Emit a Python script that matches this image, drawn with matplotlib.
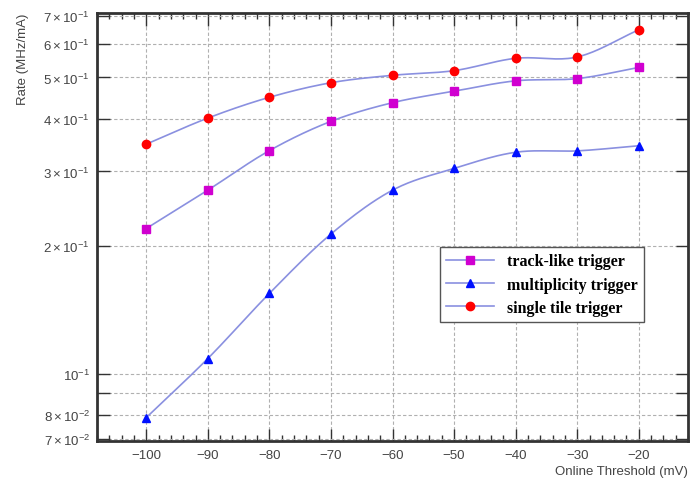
import numpy as np
import matplotlib.pyplot as plt
from matplotlib.ticker import FixedLocator, FixedFormatter, MultipleLocator, NullLocator

plt.rcParams['font.family'] = ['Liberation Sans', 'DejaVu Sans']
plt.rcParams['mathtext.fontset'] = 'custom'
plt.rcParams['mathtext.rm'] = 'Liberation Sans'
plt.rcParams['mathtext.it'] = 'Liberation Sans'

# --- data ---
threshold = [-100, -90, -80, -70, -60, -50, -40, -30, -20]
track_like = [0.220, 0.271, 0.336, 0.394, 0.436, 0.464, 0.491, 0.497, 0.528]
multiplicity = [0.0787, 0.1085, 0.1546, 0.2135, 0.271, 0.305, 0.333, 0.3355, 0.345]
single_tile = [0.348, 0.401, 0.449, 0.486, 0.506, 0.519, 0.555, 0.559, 0.648]

ytick_vals = [0.07, 0.08, 0.09, 0.1, 0.2, 0.3, 0.4, 0.5, 0.6, 0.7]
ytick_labels = [r'$7\times10^{-2}$', r'$8\times10^{-2}$', '', r'$10^{-1}$',
                r'$2\times10^{-1}$', r'$3\times10^{-1}$', r'$4\times10^{-1}$',
                r'$5\times10^{-1}$', r'$6\times10^{-1}$', r'$7\times10^{-1}$']


def smooth(x, y, n=20):
    # Catmull-Rom curve through the points, done in (x, log y) like ROOT's "C" option
    x = np.asarray(x, float)
    ly = np.log10(y)
    px = np.concatenate([[2 * x[0] - x[1]], x, [2 * x[-1] - x[-2]]])
    py = np.concatenate([[2 * ly[0] - ly[1]], ly, [2 * ly[-1] - ly[-2]]])
    xs, ys = [], []
    t = np.linspace(0, 1, n, endpoint=False)
    for i in range(1, len(px) - 2):
        for arr, out in ((px, xs), (py, ys)):
            p0, p1, p2, p3 = arr[i - 1], arr[i], arr[i + 1], arr[i + 2]
            out.append(0.5 * (2 * p1 + (-p0 + p2) * t + (2 * p0 - 5 * p1 + 4 * p2 - p3) * t**2
                              + (-p0 + 3 * p1 - 3 * p2 + p3) * t**3))
    xs = np.concatenate(xs + [[x[-1]]])
    ys = np.concatenate(ys + [[ly[-1]]])
    return xs, 10**ys


fig = plt.figure(figsize=(6.91, 4.81), dpi=100)
ax = fig.add_axes([0.1404, 0.0811, 0.8553, 0.8898])

line_col = '#8a90e0'
series = [(track_like, 's', '#d000d0', 'track-like trigger', 5.5),
          (multiplicity, '^', '#0010ff', 'multiplicity trigger', 5.5),
          (single_tile, 'o', '#ff0000', 'single tile trigger', 6)]
for vals, mk, col, lab, ms in series:
    sx, sy = smooth(threshold, vals)
    ax.plot(sx, sy, color=line_col, lw=1.2, zorder=2)
    ax.plot(threshold, vals, linestyle='none', marker=mk, color=col, ms=ms, zorder=3)
    ax.plot([], [], color=line_col, lw=1.2, marker=mk, mfc=col, mec=col, ms=ms, label=lab)

ax.set_yscale('log')
ax.set_xlim(-108, -12)
ax.set_ylim(0.0693, 0.71)

ax.xaxis.set_major_locator(MultipleLocator(10))
ax.xaxis.set_minor_locator(MultipleLocator(2))
ax.yaxis.set_major_locator(FixedLocator(ytick_vals))
ax.yaxis.set_major_formatter(FixedFormatter(ytick_labels))
ax.yaxis.set_minor_locator(NullLocator())

ax.tick_params(axis='both', which='both', direction='in', top=True, right=True,
               labelsize=9.5, colors='#333333', width=1)
ax.tick_params(axis='x', which='major', length=9, pad=6)
ax.tick_params(axis='x', which='minor', length=4)
ax.tick_params(axis='y', which='major', length=9, pad=5)
for lab in ax.get_xticklabels() + ax.get_yticklabels():
    lab.set_color('#444444')

ax.grid(True, which='major', color='#b0b0b0', linestyle=(0, (3, 2)), lw=0.8)
for s in ax.spines.values():
    s.set_linewidth(2)
    s.set_color('#333333')

ax.set_xlabel('Online Threshold (mV)', fontsize=9.5, color='#444444', labelpad=3)
ax.xaxis.set_label_coords(1.0, -0.055)
ax.xaxis.label.set_horizontalalignment('right')
ax.set_ylabel('Rate (MHz/mA)', fontsize=9.5, color='#444444')
ax.yaxis.set_label_coords(-0.115, 1.0)
ax.yaxis.label.set_horizontalalignment('right')

leg = ax.legend(loc='upper left', bbox_to_anchor=(0.58, 0.453), frameon=True,
                fancybox=False, edgecolor='#555555', framealpha=1,
                prop={'family': 'Liberation Serif', 'weight': 'bold', 'size': 11.5},
                handlelength=3.0, borderpad=0.4, labelspacing=0.45, borderaxespad=0)
leg.get_frame().set_linewidth(1)

fig.savefig('out.png', dpi=100)
